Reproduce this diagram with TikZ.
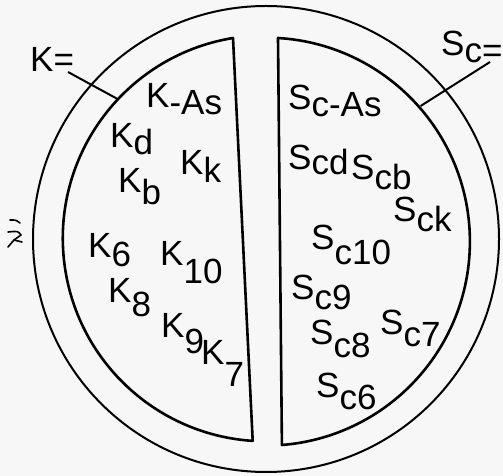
\documentclass[tikz,border=0pt]{standalone}
\usepackage{fontspec}
\setmainfont{Liberation Sans}
\usetikzlibrary{calc}
\newcommand\lo[2]{\raisebox{-#1pt}{#2}}
\begin{document}
\begin{tikzpicture}[x=1pt,y=1pt,
  lbl/.style={anchor=base west,inner sep=0pt,font=\fontsize{35}{40}\selectfont},
  ring/.style={line width=2pt},
  half/.style={line width=2.6pt,line join=round},
  leader/.style={line width=2pt},
  markstroke/.style={line width=1.6pt,line cap=round,line join=round}]
\fill[white!97!black] (0,0) rectangle (503,476);
\useasboundingbox (0,0) rectangle (503,476);
\clip (0,0) rectangle (503,476);
\coordinate (C) at (266,237);
% outer circle
\draw[ring] (C) circle (233);
% left half
\coordinate (LT) at (233,438);
\coordinate (LB) at (253,34);
\draw[half] (LT) arc[start angle=99.3,end angle=266.3,radius=203] -- cycle;
% right half
\coordinate (RT) at (278,438);
\coordinate (RB) at (282,35);
\draw[half] (RT) arc[start angle=86.6,end angle=-85.5,radius=204] -- cycle;
% leaders
\node[lbl] (Keq) at (30,404) {K=};
\node[lbl] (Sceq) at (441,420) {S\lo{7}{c=}};
\coordinate (Kend) at ($(C)+(136.6:203)$);
\coordinate (Kstart) at (68,404);
\coordinate (Sstart) at (490,414);
\coordinate (Send) at ($(C)+(40.7:204)$);
\draw[leader] (Kstart) -- (Kend);
\draw[leader] (Sstart) -- (Send);
% left labels
\node[lbl] (kas) at (146,368) {K\lo{7}{-As}};
\node[lbl] (kd)  at (110,328) {K\lo{7}{d}};
\node[lbl] (kk)  at (180,301) {K\lo{8}{k}};
\node[lbl] (kb)  at (118,283) {K\lo{12}{b}};
\node[lbl] (k6)  at (88,218)  {K\lo{9}{6}};
\node[lbl] (k10) at (160,210) {K\lo{18}{10}};
\node[lbl] (k8)  at (108,173) {K\lo{14}{8}};
\node[lbl] (k9)  at (161,138) {K\lo{16}{9}};
\node[lbl] (k7)  at (201,111) {K\lo{22}{7}};
% right labels
\node[lbl] (scas) at (288,366) {S\lo{7}{c-As}};
\node[lbl] (scd)  at (288,306) {S\lo{5}{cd}};
\node[lbl] (scb)  at (351,296) {S\lo{10}{cb}};
\node[lbl] (sck)  at (393,254) {S\lo{10}{ck}};
\node[lbl] (sc10) at (311,226) {S\lo{15}{c10}};
\node[lbl] (sc9)  at (291,176) {S\lo{10}{c9}};
\node[lbl] (sc8)  at (310,131) {S\lo{13}{c8}};
\node[lbl] (sc7)  at (380,141) {S\lo{12}{c7}};
\node[lbl] (sc6)  at (316,78)  {S\lo{12}{c6}};
% mark at left edge
\draw[markstroke] (10,256) .. controls (16,256) .. (20,253);
\draw[markstroke] (8,244) .. controls (18,245) .. (21,241) -- (14,236) -- (8,229);
\draw[markstroke] (14,236) -- (22,234);
\end{tikzpicture}
\end{document}
